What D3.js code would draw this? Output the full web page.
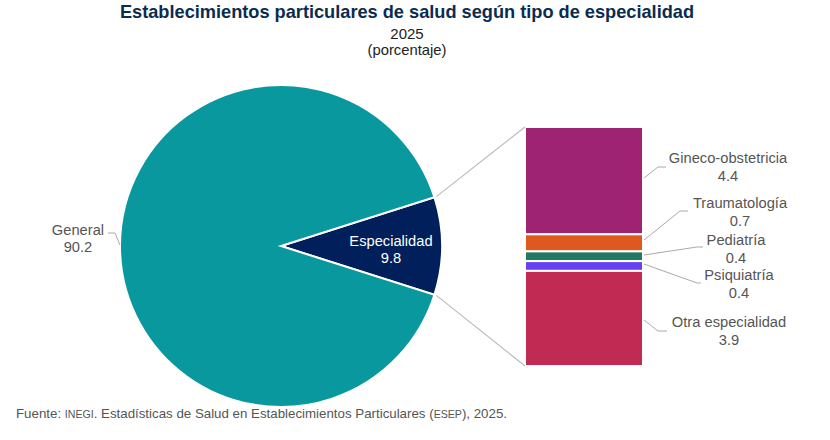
<!DOCTYPE html>
<html>
<head>
<meta charset="utf-8">
<script src="https://cdn.jsdelivr.net/npm/d3@7"></script>
<style>
  body { margin: 0; background: #fff; }
  text { font-family: "Liberation Sans", Arial, sans-serif; }
</style>
</head>
<body>
<div id="chart"></div>
<script>
// pie data
var pieNames = ["Especialidad", "General"];
var pieValues = [9.8, 90.2];
var pieColors = ["#001f5b", "#09989d"];

// breakdown of "Especialidad"
var subNames = ["Gineco-obstetricia", "Traumatología", "Pediatría", "Psiquiatría", "Otra especialidad"];
var subValues = [4.4, 0.7, 0.4, 0.4, 3.9];
var subColors = ["#9e2373", "#df581f", "#217865", "#6641f2", "#c12a52"];

var w = 830, h = 440;
var cx = 281, cy = 246, r = 161;
var fs = 14.7;

var svg = d3.select("#chart").append("svg")
  .attr("width", w)
  .attr("height", h);

// titles
svg.append("text").attr("x", 407).attr("y", 18).attr("text-anchor", "middle")
  .attr("font-size", 18.2).attr("font-weight", "bold").attr("fill", "#0b2c4f")
  .text("Establecimientos particulares de salud según tipo de especialidad");
svg.append("text").attr("x", 407).attr("y", 39).attr("text-anchor", "middle")
  .attr("font-size", 15).attr("fill", "#222").text("2025");
svg.append("text").attr("x", 407).attr("y", 55).attr("text-anchor", "middle")
  .attr("font-size", 14.8).attr("fill", "#222").text("(porcentaje)");

// pie, first slice centered on the right (angle pi/2 in d3 terms)
var total = d3.sum(pieValues);
var half = pieValues[0] / total * Math.PI;
var pie = d3.pie().sort(null)
  .startAngle(Math.PI / 2 - half)
  .endAngle(Math.PI / 2 - half + 2 * Math.PI);
var arcs = pie(pieValues);
var arc = d3.arc().innerRadius(0).outerRadius(r);

var pg = svg.append("g").attr("transform", "translate(" + cx + "," + cy + ")");
pg.selectAll("path.slice")
  .data(arcs)
  .enter()
    .append("path")
    .attr("class", "slice")
    .attr("d", arc)
    .attr("fill", function(d, i) { return pieColors[i]; })
    .attr("stroke", "#fff")
    .attr("stroke-width", 2);

// stacked bar
var bx = 525, bw = 118, by0 = 127, by1 = 366;
var y = d3.scaleLinear().domain([0, d3.sum(subValues)]).range([by0, by1]);
var cum = [0];
subValues.forEach(function(v, i) { cum.push(cum[i] + v); });

svg.selectAll("rect.seg")
  .data(subValues)
  .enter()
    .append("rect")
    .attr("class", "seg")
    .attr("x", bx)
    .attr("y", function(d, i) { return y(cum[i]); })
    .attr("width", bw)
    .attr("height", function(d, i) { return y(cum[i + 1]) - y(cum[i]); })
    .attr("fill", function(d, i) { return subColors[i]; })
    .attr("stroke", "#fff")
    .attr("stroke-width", 2);

// connectors between pie slice and bar
var a0 = arcs[0].startAngle, a1 = arcs[0].endAngle;
function pt(a, rr) { return [cx + rr * Math.sin(a), cy - rr * Math.cos(a)]; }
var p0 = pt(a0, r + 2), p1 = pt(a1, r + 2);
svg.append("line").attr("x1", p0[0]).attr("y1", p0[1]).attr("x2", bx).attr("y2", by0)
  .attr("stroke", "#bbb").attr("stroke-width", 1.2);
svg.append("line").attr("x1", p1[0]).attr("y1", p1[1]).attr("x2", bx).attr("y2", by1)
  .attr("stroke", "#bbb").attr("stroke-width", 1.2);

// inside label of Especialidad
var lab = pg.append("text").attr("text-anchor", "middle").attr("fill", "#fff").attr("font-size", fs);
lab.append("tspan").attr("x", 110).attr("y", 0).text(pieNames[0]);
lab.append("tspan").attr("x", 110).attr("y", 17).text(pieValues[0].toFixed(1));

// General label with leader
svg.append("polyline")
  .attr("points", [[120, 245], [115, 233], [108, 233]].map(function(p) { return p.join(","); }).join(" "))
  .attr("fill", "none").attr("stroke", "#aaa").attr("stroke-width", 1);
var gl = svg.append("text").attr("text-anchor", "middle").attr("fill", "#555").attr("font-size", fs);
gl.append("tspan").attr("x", 78).attr("y", 235).text(pieNames[1]);
gl.append("tspan").attr("x", 78).attr("y", 252).text(pieValues[1].toFixed(1));

// bar segment labels (label placement)
var labX = [728, 740, 736, 739, 729];
var labY = [163, 208, 245, 280, 327];
var startY = [178, 240, 255, 264, 320];
var elbowX = [658, 680, 697, 697, 658];
var elbowY = [167, 211, 247, 283, 331];
var endX = [666, 688, 703, 701, 667];

subValues.forEach(function(v, i) {
  svg.append("polyline")
    .attr("points", [[bx + bw + 1, startY[i]], [elbowX[i], elbowY[i]], [endX[i], elbowY[i]]]
      .map(function(p) { return p.join(","); }).join(" "))
    .attr("fill", "none").attr("stroke", "#aaa").attr("stroke-width", 1);
  var t = svg.append("text").attr("text-anchor", "middle").attr("fill", "#555").attr("font-size", fs);
  t.append("tspan").attr("x", labX[i]).attr("y", labY[i]).text(subNames[i]);
  t.append("tspan").attr("x", labX[i]).attr("y", labY[i] + 18).text(v.toFixed(1));
});

// source
var src = svg.append("text").attr("x", 16).attr("y", 418).attr("font-size", 13.3).attr("fill", "#555");
src.append("tspan").text("Fuente: ");
src.append("tspan").attr("font-size", 10.6).text("INEGI");
src.append("tspan").text(". Estadísticas de Salud en Establecimientos Particulares (");
src.append("tspan").attr("font-size", 10.6).text("ESEP");
src.append("tspan").text("), 2025.");
</script>
</body>
</html>
